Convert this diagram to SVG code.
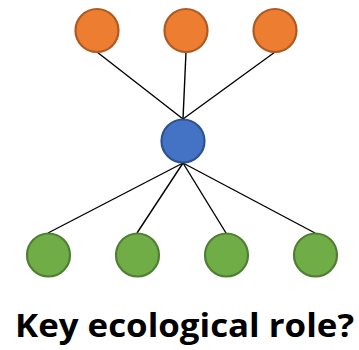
<svg xmlns="http://www.w3.org/2000/svg" width="359" height="350" viewBox="0 0 359 350">
<style>
.c{stroke-width:2.2}
.o{fill:#ED7D31;stroke:#AE5A21}
.b{fill:#4472C4;stroke:#2F528F}
.g{fill:#70AD47;stroke:#507E32}
.e{stroke:#000;stroke-width:1.4;fill:none}
.t{font-family:"Open Sans","Liberation Sans",sans-serif;font-weight:bold;font-size:33px;fill:#000}
</style>
<rect width="359" height="350" fill="#fff"/>
<g id="edges">
<line class="e" x1="97" y1="52" x2="183" y2="119"/>
<line class="e" x1="186" y1="52" x2="183" y2="119"/>
<line class="e" x1="275" y1="52" x2="183" y2="119"/>
<line class="e" x1="183" y1="163" x2="48" y2="233"/>
<line class="e" x1="183" y1="163" x2="137" y2="233"/>
<line class="e" x1="183" y1="163" x2="226" y2="233"/>
<line class="e" x1="183" y1="163" x2="315" y2="233"/>
</g>
<g id="o1"><circle class="c o" cx="97" cy="30.5" r="21.5"/></g>
<g id="o2"><circle class="c o" cx="186" cy="30.5" r="21.5"/></g>
<g id="o3"><circle class="c o" cx="275" cy="30.5" r="21.5"/></g>
<g id="b1"><circle class="c b" cx="183" cy="141" r="21.5"/></g>
<g id="g1"><circle class="c g" cx="48.5" cy="255" r="21.5"/></g>
<g id="g2"><circle class="c g" cx="137.5" cy="255" r="21.5"/></g>
<g id="g3"><circle class="c g" cx="226.5" cy="255" r="21.5"/></g>
<g id="g4"><circle class="c g" cx="315.5" cy="255" r="21.5"/></g>
<text class="t" x="15" y="337" textLength="339" lengthAdjust="spacingAndGlyphs">Key ecological role?</text>
</svg>
